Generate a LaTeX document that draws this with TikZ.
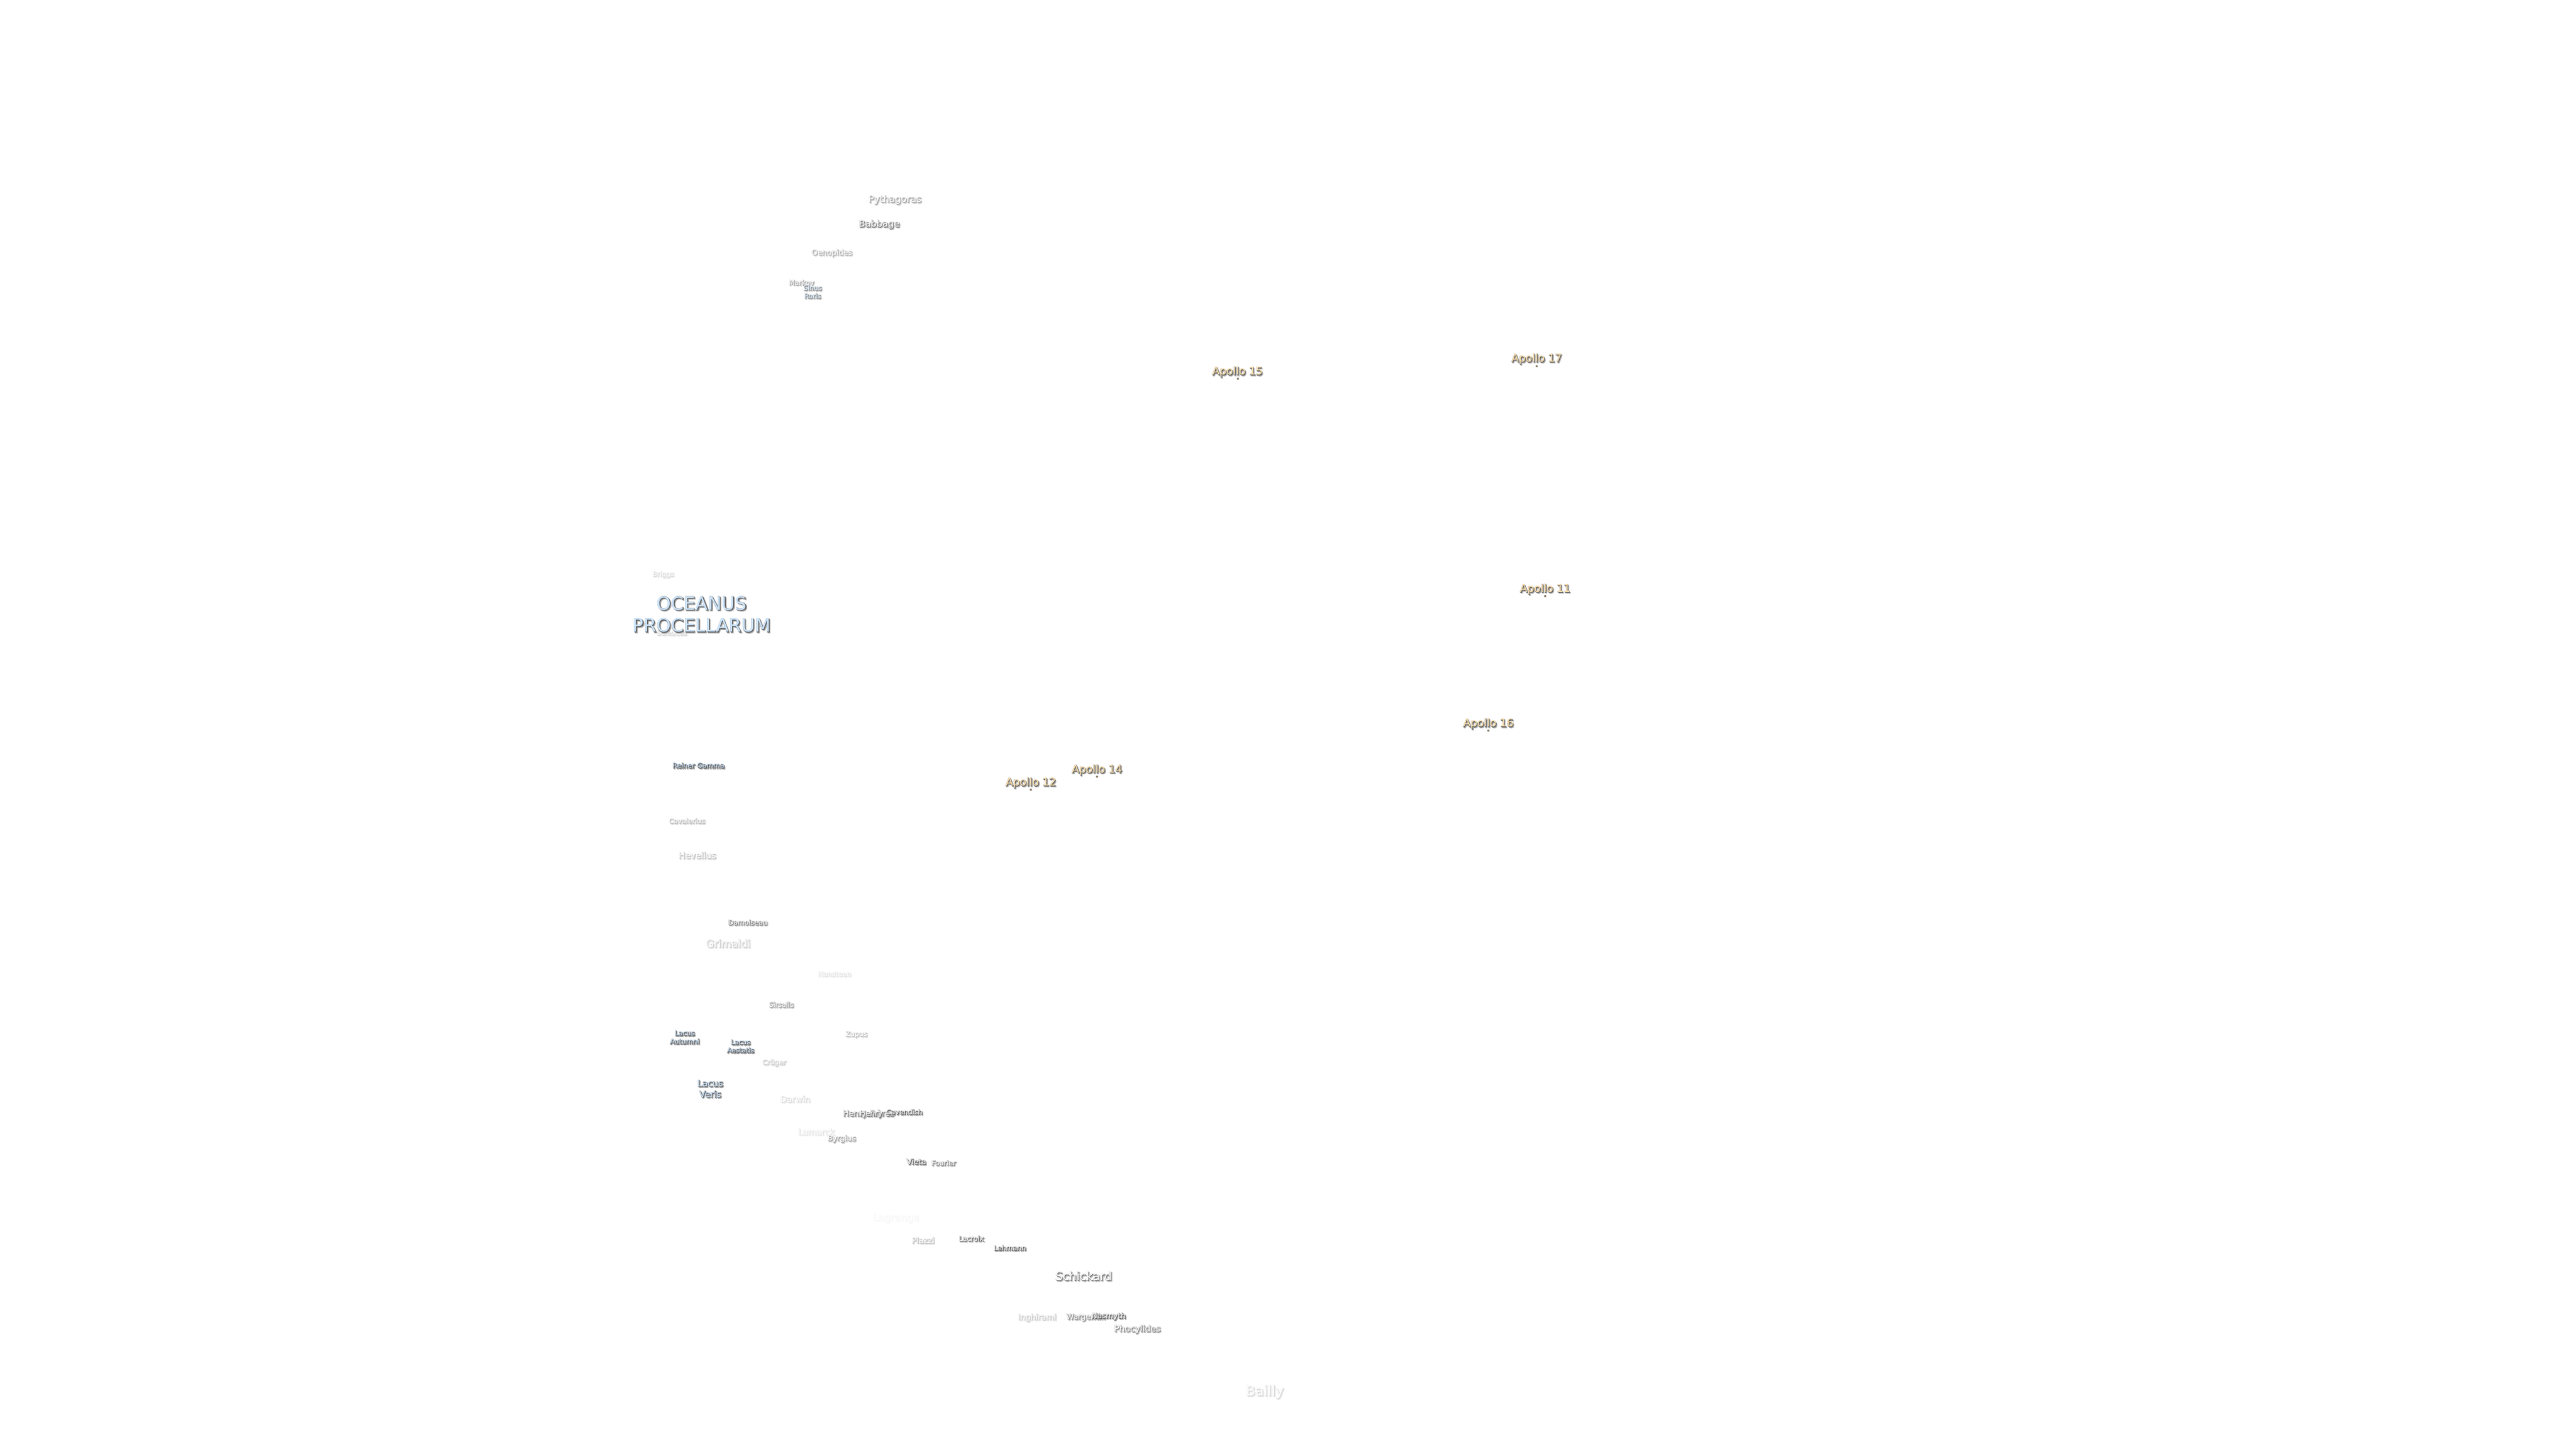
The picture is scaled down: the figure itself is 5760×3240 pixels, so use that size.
\documentclass[tikz,border=0pt]{standalone}
\usepackage{fontspec}
\setmainfont{DejaVu Sans}
\newlength{\pxu}\setlength{\pxu}{0.1mm}
% \layertext{size}{fill}{dark rim}{soft halo}{text}
\newcommand{\layertext}[5]{%
  \leavevmode
  \rlap{\kern 2.5\pxu\raisebox{-2.5\pxu}{\addfontfeature{FakeBold=\fpeval{150/#1}}\color{#4}#5}}%
  \rlap{\addfontfeature{FakeBold=\fpeval{150/#1}}\color{#4}#5}%
  \rlap{\kern 1\pxu\raisebox{-1\pxu}{\addfontfeature{FakeBold=\fpeval{60/#1}}\color{#3}#5}}%
  {\color{#2}#5}}
\newcommand{\lab}[7][]{%
  \node[lbl,name=#1,font=\fontsize{#4\pxu}{1.2\dimexpr#4\pxu\relax}\selectfont] at (#2,#3+1)
    {\layertext{#4}{#5!#6!white}{rim!#6!white}{soft!#6!white}{#7}};}
\newcommand{\labtwo}[8][]{%
  \node[lbl,name=#1,font=\fontsize{#4\pxu}{1.2\dimexpr#4\pxu\relax}\selectfont,align=center,
    inner sep=0pt] at (#2,#3+1)
    {\layertext{#4}{#5!#6!white}{rim!#6!white}{soft!#6!white}{#7}\\
     \layertext{#4}{#5!#6!white}{rim!#6!white}{soft!#6!white}{#8}};}
\definecolor{rim}{HTML}{606060}
\definecolor{soft}{HTML}{B0B0B0}
\definecolor{crater}{HTML}{FFFFFF}
\definecolor{sea}{HTML}{CCE5FF}
\definecolor{site}{HTML}{FFE0AA}
\definecolor{sitedot}{HTML}{8A7F6A}
\tikzset{
  lbl/.style={inner sep=0pt,outer sep=0pt,anchor=center},
  sitemark/.style={circle,fill=sitedot,inner sep=0pt,minimum size=5*0.1mm}
}
\begin{document}
\begin{tikzpicture}[x=0.01cm,y=-0.01cm]
\useasboundingbox[fill=white] (0,0) rectangle (5760,3240);
\lab[lagrange]{2003}{2724}{22}{crater}{5}{Lagrange}
\lab[briggs]{1483}{1285}{15}{crater}{22}{Briggs}
\lab[seleucus]{1502}{1415}{15}{crater}{25}{Seleucus}
\lab[hansteen]{1866}{2178}{15.5}{crater}{18}{Hansteen}
\lab[darwin]{1778}{2458}{19}{crater}{22}{Darwin}
\lab[lamarck]{1825}{2531}{19}{crater}{18}{Lamarck}
\lab[bailly]{2828}{3113}{31}{crater}{25}{Bailly}
\lab[grimaldi]{1628}{2110}{23.5}{crater}{32}{Grimaldi}
\lab[hevelius]{1559}{1913}{19.5}{crater}{38}{Hevelius}
\lab[cavalerius]{1536}{1836}{15.5}{crater}{40}{Cavalerius}
\lab[zupus]{1915}{2314}{15.5}{crater}{38}{Zupus}
\lab[cruger]{1731}{2377}{15.5}{crater}{32}{Crüger}
\lab[piazzi]{2064}{2774}{18}{crater}{38}{Piazzi}
\lab[inghirami]{2319}{2947}{18}{crater}{32}{Inghirami}
\lab[pythagoras]{2001}{447}{21}{crater}{55}{Pythagoras}
\lab[oenopides]{1860}{566}{17}{crater}{50}{Oenopides}
\lab[markov]{1792}{632}{15.5}{crater}{55}{Markov}
\lab[byrgius]{1882}{2547}{17}{crater}{55}{Byrgius}
\lab[sirsalis]{1747}{2247}{15.5}{crater}{62}{Sirsalis}
\lab[fourier]{2110}{2601}{15.5}{crater}{70}{Fourier}
\lab[wargentin]{2428}{2946}{17}{crater}{75}{Wargentin}
\lab[phocylides]{2543}{2973}{19.5}{crater}{75}{Phocylides}
\lab[babbage]{1966}{502}{20.5}{crater}{82}{Babbage}
\lab[damoiseau]{1672}{2063}{15.5}{crater}{72}{Damoiseau}
\lab[henryf]{1942}{2491}{18}{crater}{80}{Henry Frères}
\lab[henry]{1948}{2492}{17}{crater}{90}{Henry}
\lab[cavendish]{2022}{2487}{15.5}{crater}{95}{Cavendish}
\lab[vieta]{2049}{2598}{17}{crater}{90}{Vieta}
\lab[lacroix]{2172}{2770}{15.5}{crater}{90}{Lacroix}
\lab[lehmann]{2258}{2791}{15.5}{crater}{95}{Lehmann}
\lab[schickard]{2423}{2854}{26}{crater}{85}{Schickard}
\lab[nasmyth]{2479}{2944}{17}{crater}{95}{Nasmyth}
\labtwo[sinus]{1817}{653}{15}{sea}{70}{Sinus}{Roris}
\lab[reiner]{1562}{1712}{15.5}{sea}{100}{Reiner Gamma}
\labtwo[autumni]{1531}{2320}{15.5}{sea}{100}{Lacus}{Autumni}
\labtwo[aestatis]{1656}{2340}{15}{sea}{100}{Lacus}{Aestatis}
\labtwo[veris]{1588}{2435}{20}{sea}{100}{Lacus}{Veris}
\labtwo[oceanus]{1569}{1374}{41}{sea}{100}{OCEANUS}{PROCELLARUM}
\lab[a11]{3455}{1318}{24}{site}{100}{Apollo 11}
\lab[a12]{2305}{1751}{24}{site}{100}{Apollo 12}
\lab[a14]{2453}{1722}{24}{site}{100}{Apollo 14}
\lab[a15]{2767}{832}{24}{site}{100}{Apollo 15}
\lab[a16]{3328}{1619}{24}{site}{100}{Apollo 16}
\lab[a17]{3436}{803}{24}{site}{100}{Apollo 17}
\node[sitemark,name=d11] at (3455,1333) {};
\node[sitemark,name=d12] at (2305,1766) {};
\node[sitemark,name=d14] at (2453,1737) {};
\node[sitemark,name=d15] at (2768,847) {};
\node[sitemark,name=d16] at (3328,1634) {};
\node[sitemark,name=d17] at (3436,819) {};
\end{tikzpicture}
\end{document}
